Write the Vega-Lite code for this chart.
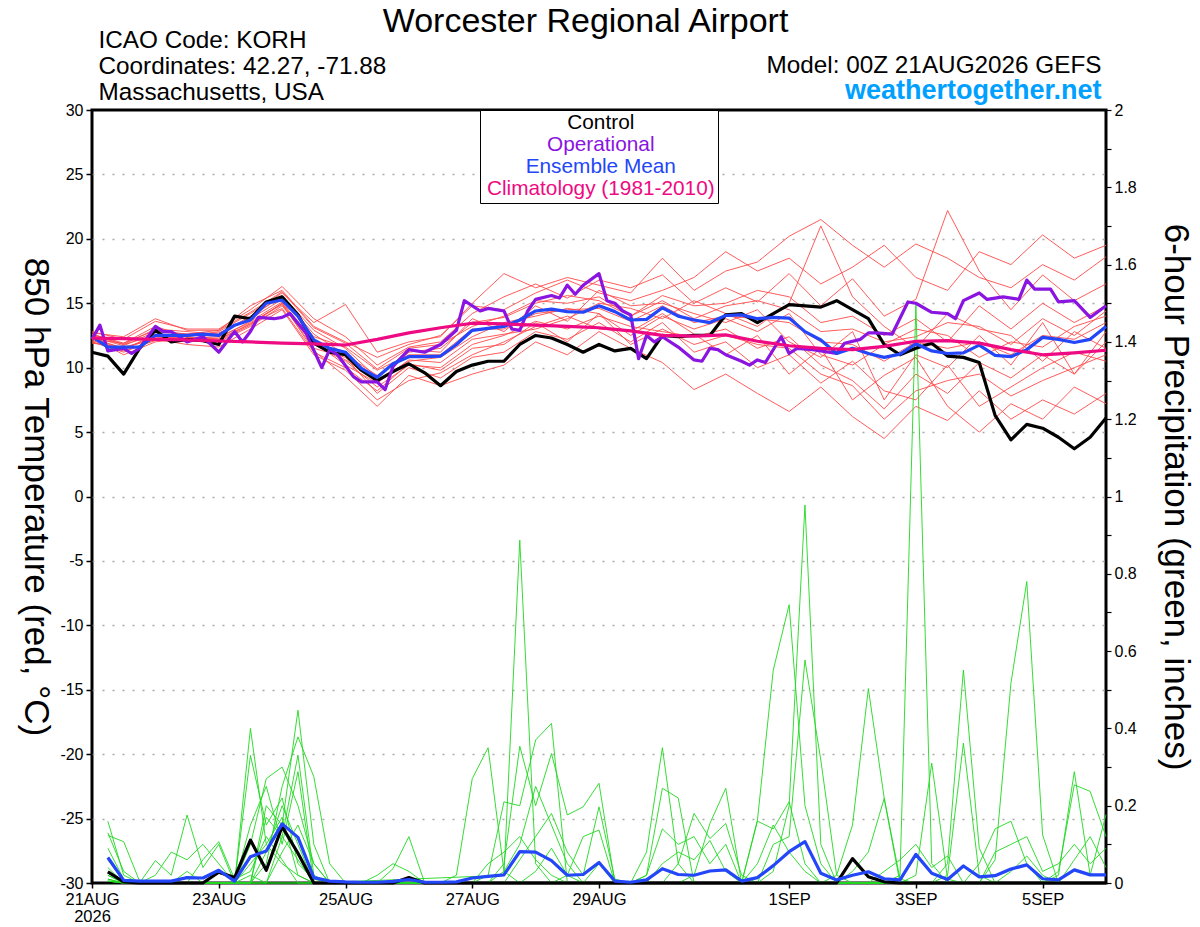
{
  "$schema": "https://vega.github.io/schema/vega-lite/v6.json",
  "width": 1014,
  "height": 773,
  "autosize": {"type": "none"},
  "padding": {"left": 92, "top": 110, "right": 94, "bottom": 44},
  "background": "white",
  "config": {
    "font": "Liberation Sans",
    "view": {"stroke": "black", "strokeWidth": 3},
    "axis": {
      "labelFont": "Liberation Sans",
      "titleFont": "Liberation Sans",
      "labelColor": "black",
      "titleColor": "black",
      "titleFontWeight": "normal",
      "tickColor": "black",
      "labelFlush": false
    }
  },
  "datasets": {
    "ens_t": [
      {"m":1,"h":0,"t":12.6},{"m":1,"h":12,"t":11.9},{"m":1,"h":24,"t":13.2},{"m":1,"h":36,"t":12.4},{"m":1,"h":48,"t":12.8},{"m":1,"h":60,"t":14.2},{"m":1,"h":72,"t":15.8},{"m":1,"h":84,"t":13.5},{"m":1,"h":96,"t":14.9},{"m":1,"h":108,"t":11.2},{"m":1,"h":120,"t":12.0},{"m":1,"h":132,"t":12.4},{"m":1,"h":144,"t":15.0},{"m":1,"h":156,"t":17.3},{"m":1,"h":168,"t":16.2},{"m":1,"h":180,"t":17.0},{"m":1,"h":192,"t":16.4},{"m":1,"h":204,"t":15.8},{"m":1,"h":216,"t":18.5},{"m":1,"h":228,"t":16.0},{"m":1,"h":240,"t":17.5},{"m":1,"h":252,"t":18.2},{"m":1,"h":264,"t":20.2},{"m":1,"h":276,"t":21.5},{"m":1,"h":288,"t":19.5},{"m":1,"h":300,"t":17.8},{"m":1,"h":312,"t":19.6},{"m":1,"h":324,"t":18.5},{"m":1,"h":336,"t":17.0},{"m":1,"h":348,"t":16.2},{"m":1,"h":360,"t":18.0},{"m":1,"h":372,"t":16.8},{"m":1,"h":384,"t":18.6},
      {"m":2,"h":0,"t":12.0},{"m":2,"h":12,"t":11.3},{"m":2,"h":24,"t":12.1},{"m":2,"h":36,"t":12.6},{"m":2,"h":48,"t":12.2},{"m":2,"h":60,"t":13.4},{"m":2,"h":72,"t":15.0},{"m":2,"h":84,"t":11.3},{"m":2,"h":96,"t":9.3},{"m":2,"h":108,"t":7.0},{"m":2,"h":120,"t":9.4},{"m":2,"h":132,"t":8.6},{"m":2,"h":144,"t":9.5},{"m":2,"h":156,"t":10.2},{"m":2,"h":168,"t":12.0},{"m":2,"h":180,"t":11.0},{"m":2,"h":192,"t":12.8},{"m":2,"h":204,"t":11.5},{"m":2,"h":216,"t":10.4},{"m":2,"h":228,"t":8.3},{"m":2,"h":240,"t":9.5},{"m":2,"h":252,"t":8.0},{"m":2,"h":264,"t":6.6},{"m":2,"h":276,"t":8.5},{"m":2,"h":288,"t":6.2},{"m":2,"h":300,"t":4.5},{"m":2,"h":312,"t":7.0},{"m":2,"h":324,"t":5.9},{"m":2,"h":336,"t":8.2},{"m":2,"h":348,"t":6.0},{"m":2,"h":360,"t":7.5},{"m":2,"h":372,"t":6.4},{"m":2,"h":384,"t":8.0},
      {"m":3,"h":0,"t":12.8},{"m":3,"h":12,"t":12.2},{"m":3,"h":24,"t":13.6},{"m":3,"h":36,"t":13.0},{"m":3,"h":48,"t":13.0},{"m":3,"h":60,"t":14.5},{"m":3,"h":72,"t":16.3},{"m":3,"h":84,"t":13.8},{"m":3,"h":96,"t":12.4},{"m":3,"h":108,"t":10.2},{"m":3,"h":120,"t":11.6},{"m":3,"h":132,"t":12.0},{"m":3,"h":144,"t":14.2},{"m":3,"h":156,"t":15.5},{"m":3,"h":168,"t":16.5},{"m":3,"h":180,"t":15.4},{"m":3,"h":192,"t":16.8},{"m":3,"h":204,"t":16.2},{"m":3,"h":216,"t":17.2},{"m":3,"h":228,"t":15.0},{"m":3,"h":240,"t":16.2},{"m":3,"h":252,"t":15.1},{"m":3,"h":264,"t":17.3},{"m":3,"h":276,"t":14.8},{"m":3,"h":288,"t":16.9},{"m":3,"h":300,"t":14.0},{"m":3,"h":312,"t":15.3},{"m":3,"h":324,"t":22.2},{"m":3,"h":336,"t":17.5},{"m":3,"h":348,"t":14.5},{"m":3,"h":360,"t":17.2},{"m":3,"h":372,"t":15.2},{"m":3,"h":384,"t":16.5},
      {"m":4,"h":0,"t":12.2},{"m":4,"h":12,"t":11.5},{"m":4,"h":24,"t":12.4},{"m":4,"h":36,"t":12.1},{"m":4,"h":48,"t":12.0},{"m":4,"h":60,"t":13.2},{"m":4,"h":72,"t":14.8},{"m":4,"h":84,"t":11.8},{"m":4,"h":96,"t":10.5},{"m":4,"h":108,"t":8.5},{"m":4,"h":120,"t":10.2},{"m":4,"h":132,"t":10.0},{"m":4,"h":144,"t":11.8},{"m":4,"h":156,"t":12.5},{"m":4,"h":168,"t":13.6},{"m":4,"h":180,"t":13.0},{"m":4,"h":192,"t":14.0},{"m":4,"h":204,"t":13.2},{"m":4,"h":216,"t":12.8},{"m":4,"h":228,"t":12.4},{"m":4,"h":240,"t":13.0},{"m":4,"h":252,"t":11.5},{"m":4,"h":264,"t":12.4},{"m":4,"h":276,"t":10.2},{"m":4,"h":288,"t":9.0},{"m":4,"h":300,"t":6.8},{"m":4,"h":312,"t":9.5},{"m":4,"h":324,"t":8.0},{"m":4,"h":336,"t":10.4},{"m":4,"h":348,"t":9.2},{"m":4,"h":360,"t":11.0},{"m":4,"h":372,"t":9.5},{"m":4,"h":384,"t":12.0},
      {"m":5,"h":0,"t":12.5},{"m":5,"h":12,"t":11.8},{"m":5,"h":24,"t":13.0},{"m":5,"h":36,"t":12.8},{"m":5,"h":48,"t":12.6},{"m":5,"h":60,"t":14.0},{"m":5,"h":72,"t":15.5},{"m":5,"h":84,"t":12.6},{"m":5,"h":96,"t":11.0},{"m":5,"h":108,"t":9.4},{"m":5,"h":120,"t":11.2},{"m":5,"h":132,"t":11.5},{"m":5,"h":144,"t":13.5},{"m":5,"h":156,"t":13.9},{"m":5,"h":168,"t":15.0},{"m":5,"h":180,"t":15.6},{"m":5,"h":192,"t":15.2},{"m":5,"h":204,"t":14.0},{"m":5,"h":216,"t":15.6},{"m":5,"h":228,"t":14.8},{"m":5,"h":240,"t":15.0},{"m":5,"h":252,"t":16.0},{"m":5,"h":264,"t":15.5},{"m":5,"h":276,"t":13.5},{"m":5,"h":288,"t":14.0},{"m":5,"h":300,"t":12.5},{"m":5,"h":312,"t":13.8},{"m":5,"h":324,"t":12.0},{"m":5,"h":336,"t":14.8},{"m":5,"h":348,"t":13.0},{"m":5,"h":360,"t":15.0},{"m":5,"h":372,"t":13.5},{"m":5,"h":384,"t":14.8},
      {"m":6,"h":0,"t":12.3},{"m":6,"h":12,"t":11.0},{"m":6,"h":24,"t":12.0},{"m":6,"h":36,"t":12.3},{"m":6,"h":48,"t":12.4},{"m":6,"h":60,"t":13.5},{"m":6,"h":72,"t":14.9},{"m":6,"h":84,"t":11.5},{"m":6,"h":96,"t":10.8},{"m":6,"h":108,"t":8.0},{"m":6,"h":120,"t":10.0},{"m":6,"h":132,"t":9.2},{"m":6,"h":144,"t":10.8},{"m":6,"h":156,"t":11.2},{"m":6,"h":168,"t":12.8},{"m":6,"h":180,"t":12.2},{"m":6,"h":192,"t":13.5},{"m":6,"h":204,"t":12.0},{"m":6,"h":216,"t":13.5},{"m":6,"h":228,"t":11.2},{"m":6,"h":240,"t":12.0},{"m":6,"h":252,"t":10.0},{"m":6,"h":264,"t":11.0},{"m":6,"h":276,"t":8.8},{"m":6,"h":288,"t":10.5},{"m":6,"h":300,"t":8.2},{"m":6,"h":312,"t":7.5},{"m":6,"h":324,"t":10.2},{"m":6,"h":336,"t":7.0},{"m":6,"h":348,"t":8.5},{"m":6,"h":360,"t":10.0},{"m":6,"h":372,"t":11.2},{"m":6,"h":384,"t":10.5},
      {"m":7,"h":0,"t":12.7},{"m":7,"h":12,"t":12.4},{"m":7,"h":24,"t":13.8},{"m":7,"h":36,"t":12.9},{"m":7,"h":48,"t":12.9},{"m":7,"h":60,"t":14.8},{"m":7,"h":72,"t":16.0},{"m":7,"h":84,"t":13.2},{"m":7,"h":96,"t":12.0},{"m":7,"h":108,"t":10.8},{"m":7,"h":120,"t":11.8},{"m":7,"h":132,"t":12.5},{"m":7,"h":144,"t":14.8},{"m":7,"h":156,"t":14.5},{"m":7,"h":168,"t":15.8},{"m":7,"h":180,"t":16.8},{"m":7,"h":192,"t":15.8},{"m":7,"h":204,"t":15.2},{"m":7,"h":216,"t":16.0},{"m":7,"h":228,"t":17.0},{"m":7,"h":240,"t":19.0},{"m":7,"h":252,"t":17.5},{"m":7,"h":264,"t":18.5},{"m":7,"h":276,"t":16.5},{"m":7,"h":288,"t":17.8},{"m":7,"h":300,"t":19.5},{"m":7,"h":312,"t":17.0},{"m":7,"h":324,"t":16.0},{"m":7,"h":336,"t":19.0},{"m":7,"h":348,"t":18.0},{"m":7,"h":360,"t":20.3},{"m":7,"h":372,"t":18.5},{"m":7,"h":384,"t":19.5},
      {"m":8,"h":0,"t":11.9},{"m":8,"h":12,"t":11.6},{"m":8,"h":24,"t":12.2},{"m":8,"h":36,"t":11.8},{"m":8,"h":48,"t":11.6},{"m":8,"h":60,"t":13.0},{"m":8,"h":72,"t":14.5},{"m":8,"h":84,"t":11.0},{"m":8,"h":96,"t":9.8},{"m":8,"h":108,"t":7.5},{"m":8,"h":120,"t":9.0},{"m":8,"h":132,"t":9.6},{"m":8,"h":144,"t":11.0},{"m":8,"h":156,"t":12.0},{"m":8,"h":168,"t":13.2},{"m":8,"h":180,"t":14.0},{"m":8,"h":192,"t":13.0},{"m":8,"h":204,"t":12.8},{"m":8,"h":216,"t":14.2},{"m":8,"h":228,"t":12.6},{"m":8,"h":240,"t":11.0},{"m":8,"h":252,"t":12.5},{"m":8,"h":264,"t":9.5},{"m":8,"h":276,"t":11.5},{"m":8,"h":288,"t":7.5},{"m":8,"h":300,"t":9.4},{"m":8,"h":312,"t":10.8},{"m":8,"h":324,"t":7.0},{"m":8,"h":336,"t":5.0},{"m":8,"h":348,"t":7.2},{"m":8,"h":360,"t":6.0},{"m":8,"h":372,"t":8.5},{"m":8,"h":384,"t":7.2},
      {"m":9,"h":0,"t":12.4},{"m":9,"h":12,"t":11.7},{"m":9,"h":24,"t":12.8},{"m":9,"h":36,"t":12.6},{"m":9,"h":48,"t":12.7},{"m":9,"h":60,"t":13.8},{"m":9,"h":72,"t":15.3},{"m":9,"h":84,"t":12.4},{"m":9,"h":96,"t":11.6},{"m":9,"h":108,"t":9.8},{"m":9,"h":120,"t":11.0},{"m":9,"h":132,"t":11.0},{"m":9,"h":144,"t":13.0},{"m":9,"h":156,"t":13.0},{"m":9,"h":168,"t":14.2},{"m":9,"h":180,"t":14.5},{"m":9,"h":192,"t":14.6},{"m":9,"h":204,"t":13.6},{"m":9,"h":216,"t":14.8},{"m":9,"h":228,"t":13.5},{"m":9,"h":240,"t":14.0},{"m":9,"h":252,"t":13.8},{"m":9,"h":264,"t":13.5},{"m":9,"h":276,"t":12.0},{"m":9,"h":288,"t":11.8},{"m":9,"h":300,"t":10.5},{"m":9,"h":312,"t":12.0},{"m":9,"h":324,"t":11.5},{"m":9,"h":336,"t":12.0},{"m":9,"h":348,"t":11.0},{"m":9,"h":360,"t":12.5},{"m":9,"h":372,"t":12.2},{"m":9,"h":384,"t":13.5},
      {"m":10,"h":0,"t":12.1},{"m":10,"h":12,"t":11.4},{"m":10,"h":24,"t":12.6},{"m":10,"h":36,"t":12.2},{"m":10,"h":48,"t":12.3},{"m":10,"h":60,"t":13.6},{"m":10,"h":72,"t":15.1},{"m":10,"h":84,"t":12.0},{"m":10,"h":96,"t":10.2},{"m":10,"h":108,"t":8.8},{"m":10,"h":120,"t":10.6},{"m":10,"h":132,"t":10.4},{"m":10,"h":144,"t":12.2},{"m":10,"h":156,"t":12.6},{"m":10,"h":168,"t":13.0},{"m":10,"h":180,"t":13.8},{"m":10,"h":192,"t":15.0},{"m":10,"h":204,"t":14.6},{"m":10,"h":216,"t":13.8},{"m":10,"h":228,"t":15.2},{"m":10,"h":240,"t":14.2},{"m":10,"h":252,"t":13.2},{"m":10,"h":264,"t":15.0},{"m":10,"h":276,"t":21.0},{"m":10,"h":288,"t":15.5},{"m":10,"h":300,"t":13.2},{"m":10,"h":312,"t":11.5},{"m":10,"h":324,"t":14.2},{"m":10,"h":336,"t":13.0},{"m":10,"h":348,"t":12.5},{"m":10,"h":360,"t":10.5},{"m":10,"h":372,"t":12.8},{"m":10,"h":384,"t":11.5},
      {"m":11,"h":0,"t":12.6},{"m":11,"h":12,"t":11.8},{"m":11,"h":24,"t":12.5},{"m":11,"h":36,"t":12.5},{"m":11,"h":48,"t":12.5},{"m":11,"h":60,"t":13.9},{"m":11,"h":72,"t":15.6},{"m":11,"h":84,"t":12.9},{"m":11,"h":96,"t":11.5},{"m":11,"h":108,"t":9.2},{"m":11,"h":120,"t":11.4},{"m":11,"h":132,"t":11.2},{"m":11,"h":144,"t":13.8},{"m":11,"h":156,"t":12.8},{"m":11,"h":168,"t":14.8},{"m":11,"h":180,"t":13.6},{"m":11,"h":192,"t":16.0},{"m":11,"h":204,"t":14.8},{"m":11,"h":216,"t":15.0},{"m":11,"h":228,"t":14.2},{"m":11,"h":240,"t":13.5},{"m":11,"h":252,"t":14.5},{"m":11,"h":264,"t":12.0},{"m":11,"h":276,"t":10.8},{"m":11,"h":288,"t":12.8},{"m":11,"h":300,"t":7.5},{"m":11,"h":312,"t":11.0},{"m":11,"h":324,"t":10.0},{"m":11,"h":336,"t":12.5},{"m":11,"h":348,"t":10.2},{"m":11,"h":360,"t":13.5},{"m":11,"h":372,"t":9.5},{"m":11,"h":384,"t":12.8},
      {"m":12,"h":0,"t":12.3},{"m":12,"h":12,"t":11.5},{"m":12,"h":24,"t":12.3},{"m":12,"h":36,"t":12.4},{"m":12,"h":48,"t":12.1},{"m":12,"h":60,"t":13.3},{"m":12,"h":72,"t":15.0},{"m":12,"h":84,"t":11.9},{"m":12,"h":96,"t":10.6},{"m":12,"h":108,"t":9.0},{"m":12,"h":120,"t":10.5},{"m":12,"h":132,"t":10.8},{"m":12,"h":144,"t":12.4},{"m":12,"h":156,"t":13.5},{"m":12,"h":168,"t":14.0},{"m":12,"h":180,"t":14.6},{"m":12,"h":192,"t":14.2},{"m":12,"h":204,"t":12.5},{"m":12,"h":216,"t":14.0},{"m":12,"h":228,"t":13.0},{"m":12,"h":240,"t":13.8},{"m":12,"h":252,"t":12.8},{"m":12,"h":264,"t":14.2},{"m":12,"h":276,"t":11.0},{"m":12,"h":288,"t":10.2},{"m":12,"h":300,"t":11.8},{"m":12,"h":312,"t":13.0},{"m":12,"h":324,"t":12.5},{"m":12,"h":336,"t":10.8},{"m":12,"h":348,"t":12.0},{"m":12,"h":360,"t":11.6},{"m":12,"h":372,"t":13.2},{"m":12,"h":384,"t":14.0},
      {"m":13,"h":0,"t":12.2},{"m":13,"h":12,"t":11.9},{"m":13,"h":24,"t":12.9},{"m":13,"h":36,"t":12.6},{"m":13,"h":48,"t":12.9},{"m":13,"h":60,"t":14.3},{"m":13,"h":72,"t":15.9},{"m":13,"h":84,"t":13.1},{"m":13,"h":96,"t":11.9},{"m":13,"h":108,"t":9.9},{"m":13,"h":120,"t":11.5},{"m":13,"h":132,"t":11.8},{"m":13,"h":144,"t":13.2},{"m":13,"h":156,"t":14.0},{"m":13,"h":168,"t":15.2},{"m":13,"h":180,"t":15.0},{"m":13,"h":192,"t":15.5},{"m":13,"h":204,"t":14.0},{"m":13,"h":216,"t":15.2},{"m":13,"h":228,"t":13.8},{"m":13,"h":240,"t":14.8},{"m":13,"h":252,"t":15.2},{"m":13,"h":264,"t":14.5},{"m":13,"h":276,"t":12.8},{"m":13,"h":288,"t":13.0},{"m":13,"h":300,"t":12.0},{"m":13,"h":312,"t":12.4},{"m":13,"h":324,"t":13.5},{"m":13,"h":336,"t":13.2},{"m":13,"h":348,"t":11.8},{"m":13,"h":360,"t":13.8},{"m":13,"h":372,"t":12.5},{"m":13,"h":384,"t":14.4},
      {"m":14,"h":0,"t":12.0},{"m":14,"h":12,"t":11.2},{"m":14,"h":24,"t":12.2},{"m":14,"h":36,"t":12.3},{"m":14,"h":48,"t":12.2},{"m":14,"h":60,"t":13.4},{"m":14,"h":72,"t":14.6},{"m":14,"h":84,"t":11.2},{"m":14,"h":96,"t":10.0},{"m":14,"h":108,"t":8.2},{"m":14,"h":120,"t":10.3},{"m":14,"h":132,"t":9.8},{"m":14,"h":144,"t":11.5},{"m":14,"h":156,"t":11.8},{"m":14,"h":168,"t":13.5},{"m":14,"h":180,"t":12.0},{"m":14,"h":192,"t":14.2},{"m":14,"h":204,"t":11.8},{"m":14,"h":216,"t":13.0},{"m":14,"h":228,"t":11.8},{"m":14,"h":240,"t":12.5},{"m":14,"h":252,"t":11.8},{"m":14,"h":264,"t":11.5},{"m":14,"h":276,"t":9.5},{"m":14,"h":288,"t":8.6},{"m":14,"h":300,"t":6.0},{"m":14,"h":312,"t":8.2},{"m":14,"h":324,"t":9.0},{"m":14,"h":336,"t":9.5},{"m":14,"h":348,"t":7.8},{"m":14,"h":360,"t":9.0},{"m":14,"h":372,"t":10.0},{"m":14,"h":384,"t":11.0}
    ],
    "ens_p": [
      {"m":1,"h":6,"p":0.16},{"m":1,"h":12,"p":0.02},{"m":1,"h":18,"p":0},{"m":1,"h":54,"p":0},{"m":1,"h":60,"p":0.40},{"m":1,"h":66,"p":0.10},{"m":1,"h":72,"p":0.05},{"m":1,"h":78,"p":0.02},{"m":1,"h":84,"p":0},{"m":1,"h":156,"p":0.02},{"m":1,"h":162,"p":0.887},{"m":1,"h":168,"p":0.05},{"m":1,"h":174,"p":0},{"m":1,"h":282,"p":0},{"m":1,"h":288,"p":0.03},{"m":1,"h":294,"p":0.08},{"m":1,"h":300,"p":0.219},{"m":1,"h":306,"p":0},{"m":1,"h":384,"p":0},
      {"m":2,"h":6,"p":0.13},{"m":2,"h":12,"p":0.03},{"m":2,"h":18,"p":0},{"m":2,"h":54,"p":0},{"m":2,"h":60,"p":0.33},{"m":2,"h":66,"p":0.15},{"m":2,"h":72,"p":0.22},{"m":2,"h":78,"p":0.05},{"m":2,"h":84,"p":0.01},{"m":2,"h":90,"p":0},{"m":2,"h":144,"p":0},{"m":2,"h":150,"p":0.02},{"m":2,"h":156,"p":0.21},{"m":2,"h":162,"p":0.2},{"m":2,"h":168,"p":0.37},{"m":2,"h":174,"p":0.413},{"m":2,"h":180,"p":0},{"m":2,"h":300,"p":0},{"m":2,"h":306,"p":0.02},{"m":2,"h":312,"p":1.495},{"m":2,"h":318,"p":0.05},{"m":2,"h":324,"p":0},{"m":2,"h":384,"p":0},
      {"m":3,"h":6,"p":0.123},{"m":3,"h":12,"p":0.107},{"m":3,"h":18,"p":0.005},{"m":3,"h":24,"p":0},{"m":3,"h":54,"p":0},{"m":3,"h":60,"p":0.10},{"m":3,"h":66,"p":0.27},{"m":3,"h":72,"p":0.30},{"m":3,"h":78,"p":0.20},{"m":3,"h":84,"p":0.05},{"m":3,"h":90,"p":0},{"m":3,"h":150,"p":0},{"m":3,"h":156,"p":0.05},{"m":3,"h":162,"p":0.354},{"m":3,"h":168,"p":0.2},{"m":3,"h":174,"p":0.335},{"m":3,"h":180,"p":0.176},{"m":3,"h":186,"p":0.197},{"m":3,"h":192,"p":0.258},{"m":3,"h":198,"p":0},{"m":3,"h":306,"p":0},{"m":3,"h":312,"p":0.02},{"m":3,"h":318,"p":0.31},{"m":3,"h":324,"p":0.01},{"m":3,"h":330,"p":0},{"m":3,"h":384,"p":0},
      {"m":4,"h":6,"p":0.09},{"m":4,"h":12,"p":0.01},{"m":4,"h":18,"p":0},{"m":4,"h":60,"p":0},{"m":4,"h":66,"p":0.2},{"m":4,"h":72,"p":0.15},{"m":4,"h":78,"p":0.447},{"m":4,"h":84,"p":0.1},{"m":4,"h":90,"p":0},{"m":4,"h":150,"p":0},{"m":4,"h":156,"p":0.03},{"m":4,"h":162,"p":0.1},{"m":4,"h":168,"p":0.25},{"m":4,"h":174,"p":0.15},{"m":4,"h":180,"p":0.05},{"m":4,"h":186,"p":0},{"m":4,"h":318,"p":0},{"m":4,"h":324,"p":0.05},{"m":4,"h":330,"p":0.551},{"m":4,"h":336,"p":0.09},{"m":4,"h":342,"p":0},{"m":4,"h":384,"p":0},
      {"m":5,"h":6,"p":0.06},{"m":5,"h":12,"p":0.005},{"m":5,"h":18,"p":0},{"m":5,"h":60,"p":0},{"m":5,"h":66,"p":0.05},{"m":5,"h":72,"p":0.25},{"m":5,"h":78,"p":0.378},{"m":5,"h":84,"p":0.275},{"m":5,"h":90,"p":0.05},{"m":5,"h":96,"p":0},{"m":5,"h":174,"p":0},{"m":5,"h":180,"p":0.02},{"m":5,"h":186,"p":0.12},{"m":5,"h":192,"p":0.137},{"m":5,"h":198,"p":0},{"m":5,"h":318,"p":0},{"m":5,"h":324,"p":0.02},{"m":5,"h":330,"p":0.362},{"m":5,"h":336,"p":0.02},{"m":5,"h":342,"p":0},{"m":5,"h":384,"p":0},
      {"m":6,"h":6,"p":0.04},{"m":6,"h":12,"p":0},{"m":6,"h":60,"p":0},{"m":6,"h":66,"p":0.17},{"m":6,"h":72,"p":0.12},{"m":6,"h":78,"p":0.331},{"m":6,"h":84,"p":0.02},{"m":6,"h":90,"p":0},{"m":6,"h":156,"p":0},{"m":6,"h":162,"p":0.06},{"m":6,"h":168,"p":0.12},{"m":6,"h":174,"p":0.18},{"m":6,"h":180,"p":0.08},{"m":6,"h":186,"p":0.02},{"m":6,"h":192,"p":0.197},{"m":6,"h":198,"p":0.01},{"m":6,"h":204,"p":0},{"m":6,"h":336,"p":0},{"m":6,"h":342,"p":0.06},{"m":6,"h":348,"p":0.517},{"m":6,"h":354,"p":0.78},{"m":6,"h":360,"p":0.124},{"m":6,"h":366,"p":0},{"m":6,"h":384,"p":0},
      {"m":7,"h":6,"p":0.03},{"m":7,"h":12,"p":0},{"m":7,"h":54,"p":0},{"m":7,"h":60,"p":0.15},{"m":7,"h":66,"p":0.25},{"m":7,"h":72,"p":0.10},{"m":7,"h":78,"p":0.288},{"m":7,"h":84,"p":0},{"m":7,"h":162,"p":0},{"m":7,"h":168,"p":0.03},{"m":7,"h":174,"p":0.09},{"m":7,"h":180,"p":0.02},{"m":7,"h":186,"p":0},{"m":7,"h":192,"p":0.05},{"m":7,"h":198,"p":0},{"m":7,"h":204,"p":0},{"m":7,"h":210,"p":0.08},{"m":7,"h":216,"p":0.35},{"m":7,"h":222,"p":0.05},{"m":7,"h":228,"p":0},{"m":7,"h":360,"p":0},{"m":7,"h":366,"p":0.02},{"m":7,"h":372,"p":0.288},{"m":7,"h":378,"p":0.02},{"m":7,"h":384,"p":0.177},
      {"m":8,"h":6,"p":0.02},{"m":8,"h":12,"p":0},{"m":8,"h":60,"p":0},{"m":8,"h":66,"p":0.08},{"m":8,"h":72,"p":0.20},{"m":8,"h":78,"p":0.1},{"m":8,"h":84,"p":0},{"m":8,"h":204,"p":0},{"m":8,"h":210,"p":0.02},{"m":8,"h":216,"p":0.245},{"m":8,"h":222,"p":0.22},{"m":8,"h":228,"p":0},{"m":8,"h":360,"p":0},{"m":8,"h":366,"p":0.03},{"m":8,"h":372,"p":0.254},{"m":8,"h":378,"p":0.237},{"m":8,"h":384,"p":0.12},
      {"m":9,"h":6,"p":0.01},{"m":9,"h":12,"p":0},{"m":9,"h":18,"p":0},{"m":9,"h":24,"p":0.058},{"m":9,"h":30,"p":0.02},{"m":9,"h":36,"p":0.176},{"m":9,"h":42,"p":0.04},{"m":9,"h":48,"p":0.1},{"m":9,"h":54,"p":0},{"m":9,"h":60,"p":0.05},{"m":9,"h":66,"p":0.1},{"m":9,"h":72,"p":0.17},{"m":9,"h":78,"p":0.02},{"m":9,"h":84,"p":0},{"m":9,"h":216,"p":0},{"m":9,"h":222,"p":0.05},{"m":9,"h":228,"p":0.18},{"m":9,"h":234,"p":0.115},{"m":9,"h":240,"p":0.154},{"m":9,"h":246,"p":0.02},{"m":9,"h":252,"p":0},{"m":9,"h":330,"p":0},{"m":9,"h":336,"p":0.05},{"m":9,"h":342,"p":0.14},{"m":9,"h":348,"p":0.16},{"m":9,"h":354,"p":0.05},{"m":9,"h":360,"p":0},{"m":9,"h":384,"p":0},
      {"m":10,"h":6,"p":0.005},{"m":10,"h":12,"p":0},{"m":10,"h":18,"p":0},{"m":10,"h":24,"p":0.02},{"m":10,"h":30,"p":0.08},{"m":10,"h":36,"p":0.06},{"m":10,"h":42,"p":0.1},{"m":10,"h":48,"p":0.05},{"m":10,"h":54,"p":0},{"m":10,"h":66,"p":0},{"m":10,"h":72,"p":0.08},{"m":10,"h":78,"p":0.15},{"m":10,"h":84,"p":0.05},{"m":10,"h":90,"p":0},{"m":10,"h":222,"p":0},{"m":10,"h":228,"p":0.02},{"m":10,"h":234,"p":0.154},{"m":10,"h":240,"p":0.245},{"m":10,"h":246,"p":0},{"m":10,"h":252,"p":0.16},{"m":10,"h":258,"p":0.14},{"m":10,"h":264,"p":0.21},{"m":10,"h":270,"p":0.05},{"m":10,"h":276,"p":0},{"m":10,"h":336,"p":0},{"m":10,"h":342,"p":0.08},{"m":10,"h":348,"p":0.1},{"m":10,"h":354,"p":0.12},{"m":10,"h":360,"p":0.03},{"m":10,"h":366,"p":0.05},{"m":10,"h":372,"p":0.1},{"m":10,"h":378,"p":0.05},{"m":10,"h":384,"p":0.09},
      {"m":11,"h":6,"p":0.01},{"m":11,"h":12,"p":0},{"m":11,"h":36,"p":0},{"m":11,"h":42,"p":0.06},{"m":11,"h":48,"p":0.107},{"m":11,"h":54,"p":0.01},{"m":11,"h":60,"p":0.03},{"m":11,"h":66,"p":0.12},{"m":11,"h":72,"p":0.06},{"m":11,"h":78,"p":0},{"m":11,"h":204,"p":0},{"m":11,"h":210,"p":0.02},{"m":11,"h":216,"p":0.14},{"m":11,"h":222,"p":0.1},{"m":11,"h":228,"p":0.12},{"m":11,"h":234,"p":0.05},{"m":11,"h":240,"p":0.1},{"m":11,"h":246,"p":0},{"m":11,"h":252,"p":0.163},{"m":11,"h":258,"p":0.551},{"m":11,"h":264,"p":0.72},{"m":11,"h":270,"p":0.2},{"m":11,"h":276,"p":0.05},{"m":11,"h":282,"p":0},{"m":11,"h":342,"p":0},{"m":11,"h":348,"p":0.03},{"m":11,"h":354,"p":0.07},{"m":11,"h":360,"p":0.02},{"m":11,"h":366,"p":0},{"m":11,"h":372,"p":0.06},{"m":11,"h":378,"p":0.12},{"m":11,"h":384,"p":0.04},
      {"m":12,"h":6,"p":0.005},{"m":12,"h":12,"p":0},{"m":12,"h":54,"p":0},{"m":12,"h":60,"p":0.02},{"m":12,"h":66,"p":0},{"m":12,"h":72,"p":0.12},{"m":12,"h":78,"p":0.06},{"m":12,"h":84,"p":0},{"m":12,"h":108,"p":0},{"m":12,"h":114,"p":0.037},{"m":12,"h":120,"p":0.12},{"m":12,"h":126,"p":0},{"m":12,"h":210,"p":0},{"m":12,"h":216,"p":0.05},{"m":12,"h":222,"p":0.08},{"m":12,"h":228,"p":0.06},{"m":12,"h":234,"p":0.11},{"m":12,"h":240,"p":0.03},{"m":12,"h":246,"p":0},{"m":12,"h":252,"p":0},{"m":12,"h":258,"p":0.1},{"m":12,"h":264,"p":0.12},{"m":12,"h":270,"p":0.577},{"m":12,"h":276,"p":0.318},{"m":12,"h":282,"p":0.02},{"m":12,"h":288,"p":0},{"m":12,"h":384,"p":0},
      {"m":13,"h":6,"p":0.02},{"m":13,"h":12,"p":0},{"m":13,"h":102,"p":0},{"m":13,"h":108,"p":0.02},{"m":13,"h":114,"p":0.05},{"m":13,"h":120,"p":0.03},{"m":13,"h":126,"p":0},{"m":13,"h":132,"p":0},{"m":13,"h":138,"p":0.02},{"m":13,"h":144,"p":0.27},{"m":13,"h":150,"p":0.35},{"m":13,"h":156,"p":0.03},{"m":13,"h":162,"p":0},{"m":13,"h":252,"p":0},{"m":13,"h":258,"p":0.03},{"m":13,"h":264,"p":0.2},{"m":13,"h":270,"p":0.978},{"m":13,"h":276,"p":0.1},{"m":13,"h":282,"p":0},{"m":13,"h":294,"p":0},{"m":13,"h":300,"p":0.03},{"m":13,"h":306,"p":0.06},{"m":13,"h":312,"p":0.1},{"m":13,"h":318,"p":0.04},{"m":13,"h":324,"p":0.07},{"m":13,"h":330,"p":0},{"m":13,"h":384,"p":0},
      {"m":14,"h":6,"p":0.005},{"m":14,"h":12,"p":0},{"m":14,"h":30,"p":0},{"m":14,"h":36,"p":0.03},{"m":14,"h":42,"p":0},{"m":14,"h":144,"p":0},{"m":14,"h":150,"p":0.05},{"m":14,"h":156,"p":0.08},{"m":14,"h":162,"p":0.12},{"m":14,"h":168,"p":0.06},{"m":14,"h":174,"p":0.02},{"m":14,"h":180,"p":0},{"m":14,"h":246,"p":0},{"m":14,"h":252,"p":0.05},{"m":14,"h":258,"p":0.15},{"m":14,"h":264,"p":0.08},{"m":14,"h":270,"p":0.03},{"m":14,"h":276,"p":0},{"m":14,"h":282,"p":0.02},{"m":14,"h":288,"p":0.15},{"m":14,"h":294,"p":0.503},{"m":14,"h":300,"p":0.22},{"m":14,"h":306,"p":0.01},{"m":14,"h":312,"p":0},{"m":14,"h":384,"p":0}
    ],
    "main_p": [
      {"s":"Control","h":6,"p":0.029},{"s":"Control","h":12,"p":0.003},{"s":"Control","h":18,"p":0},{"s":"Control","h":42,"p":0},{"s":"Control","h":48,"p":0.028},{"s":"Control","h":54,"p":0.014},{"s":"Control","h":60,"p":0.111},{"s":"Control","h":66,"p":0.033},{"s":"Control","h":72,"p":0.146},{"s":"Control","h":78,"p":0.077},{"s":"Control","h":84,"p":0},{"s":"Control","h":114,"p":0},{"s":"Control","h":120,"p":0.014},{"s":"Control","h":126,"p":0},{"s":"Control","h":282,"p":0},{"s":"Control","h":288,"p":0.063},{"s":"Control","h":294,"p":0.016},{"s":"Control","h":300,"p":0.003},{"s":"Control","h":306,"p":0},{"s":"Control","h":384,"p":0},
      {"s":"Ensemble Mean","h":6,"p":0.066},{"s":"Ensemble Mean","h":12,"p":0.007},{"s":"Ensemble Mean","h":18,"p":0.005},{"s":"Ensemble Mean","h":24,"p":0.005},{"s":"Ensemble Mean","h":30,"p":0.005},{"s":"Ensemble Mean","h":36,"p":0.014},{"s":"Ensemble Mean","h":42,"p":0.013},{"s":"Ensemble Mean","h":48,"p":0.033},{"s":"Ensemble Mean","h":54,"p":0.005},{"s":"Ensemble Mean","h":60,"p":0.068},{"s":"Ensemble Mean","h":66,"p":0.083},{"s":"Ensemble Mean","h":72,"p":0.153},{"s":"Ensemble Mean","h":78,"p":0.118},{"s":"Ensemble Mean","h":84,"p":0.014},{"s":"Ensemble Mean","h":90,"p":0.005},{"s":"Ensemble Mean","h":96,"p":0.003},{"s":"Ensemble Mean","h":102,"p":0.002},{"s":"Ensemble Mean","h":108,"p":0.002},{"s":"Ensemble Mean","h":114,"p":0.004},{"s":"Ensemble Mean","h":120,"p":0.009},{"s":"Ensemble Mean","h":126,"p":0.002},{"s":"Ensemble Mean","h":132,"p":0.002},{"s":"Ensemble Mean","h":138,"p":0.003},{"s":"Ensemble Mean","h":144,"p":0.013},{"s":"Ensemble Mean","h":150,"p":0.017},{"s":"Ensemble Mean","h":156,"p":0.021},{"s":"Ensemble Mean","h":162,"p":0.081},{"s":"Ensemble Mean","h":168,"p":0.08},{"s":"Ensemble Mean","h":174,"p":0.058},{"s":"Ensemble Mean","h":180,"p":0.02},{"s":"Ensemble Mean","h":186,"p":0.022},{"s":"Ensemble Mean","h":192,"p":0.053},{"s":"Ensemble Mean","h":198,"p":0.005},{"s":"Ensemble Mean","h":204,"p":0.002},{"s":"Ensemble Mean","h":210,"p":0.008},{"s":"Ensemble Mean","h":216,"p":0.037},{"s":"Ensemble Mean","h":222,"p":0.022},{"s":"Ensemble Mean","h":228,"p":0.02},{"s":"Ensemble Mean","h":234,"p":0.031},{"s":"Ensemble Mean","h":240,"p":0.034},{"s":"Ensemble Mean","h":246,"p":0.005},{"s":"Ensemble Mean","h":252,"p":0.014},{"s":"Ensemble Mean","h":258,"p":0.045},{"s":"Ensemble Mean","h":264,"p":0.081},{"s":"Ensemble Mean","h":270,"p":0.107},{"s":"Ensemble Mean","h":276,"p":0.025},{"s":"Ensemble Mean","h":282,"p":0.008},{"s":"Ensemble Mean","h":288,"p":0.02},{"s":"Ensemble Mean","h":294,"p":0.029},{"s":"Ensemble Mean","h":300,"p":0.011},{"s":"Ensemble Mean","h":306,"p":0.008},{"s":"Ensemble Mean","h":312,"p":0.074},{"s":"Ensemble Mean","h":318,"p":0.025},{"s":"Ensemble Mean","h":324,"p":0.009},{"s":"Ensemble Mean","h":330,"p":0.044},{"s":"Ensemble Mean","h":336,"p":0.016},{"s":"Ensemble Mean","h":342,"p":0.019},{"s":"Ensemble Mean","h":348,"p":0.036},{"s":"Ensemble Mean","h":354,"p":0.047},{"s":"Ensemble Mean","h":360,"p":0.011},{"s":"Ensemble Mean","h":366,"p":0.008},{"s":"Ensemble Mean","h":372,"p":0.034},{"s":"Ensemble Mean","h":378,"p":0.021},{"s":"Ensemble Mean","h":384,"p":0.021}
    ],
    "main_t": [
      {"s":"Control","h":0,"t":11.2},{"s":"Control","h":6,"t":10.9},{"s":"Control","h":12,"t":9.5},{"s":"Control","h":18,"t":11.5},{"s":"Control","h":24,"t":12.9},{"s":"Control","h":30,"t":12.0},{"s":"Control","h":36,"t":12.2},{"s":"Control","h":42,"t":12.1},{"s":"Control","h":48,"t":11.8},{"s":"Control","h":54,"t":14.0},{"s":"Control","h":60,"t":13.8},{"s":"Control","h":66,"t":15.1},{"s":"Control","h":72,"t":15.5},{"s":"Control","h":78,"t":14.1},{"s":"Control","h":84,"t":11.9},{"s":"Control","h":90,"t":11.2},{"s":"Control","h":96,"t":11.0},{"s":"Control","h":102,"t":9.8},{"s":"Control","h":108,"t":9.0},{"s":"Control","h":114,"t":9.7},{"s":"Control","h":120,"t":10.3},{"s":"Control","h":126,"t":9.6},{"s":"Control","h":132,"t":8.6},{"s":"Control","h":138,"t":9.7},{"s":"Control","h":144,"t":10.2},{"s":"Control","h":150,"t":10.5},{"s":"Control","h":156,"t":10.5},{"s":"Control","h":162,"t":11.8},{"s":"Control","h":168,"t":12.5},{"s":"Control","h":174,"t":12.3},{"s":"Control","h":180,"t":11.8},{"s":"Control","h":186,"t":11.2},{"s":"Control","h":192,"t":11.8},{"s":"Control","h":198,"t":11.3},{"s":"Control","h":204,"t":11.5},{"s":"Control","h":210,"t":10.7},{"s":"Control","h":216,"t":12.5},{"s":"Control","h":222,"t":12.4},{"s":"Control","h":228,"t":12.5},{"s":"Control","h":234,"t":12.5},{"s":"Control","h":240,"t":14.1},{"s":"Control","h":246,"t":14.2},{"s":"Control","h":252,"t":13.5},{"s":"Control","h":258,"t":14.2},{"s":"Control","h":264,"t":14.9},{"s":"Control","h":270,"t":14.8},{"s":"Control","h":276,"t":14.7},{"s":"Control","h":282,"t":15.2},{"s":"Control","h":288,"t":14.5},{"s":"Control","h":294,"t":13.8},{"s":"Control","h":300,"t":11.8},{"s":"Control","h":306,"t":11.0},{"s":"Control","h":312,"t":11.5},{"s":"Control","h":318,"t":11.9},{"s":"Control","h":324,"t":10.9},{"s":"Control","h":330,"t":10.8},{"s":"Control","h":336,"t":10.4},{"s":"Control","h":342,"t":6.3},{"s":"Control","h":348,"t":4.4},{"s":"Control","h":354,"t":5.6},{"s":"Control","h":360,"t":5.3},{"s":"Control","h":366,"t":4.6},{"s":"Control","h":372,"t":3.7},{"s":"Control","h":378,"t":4.6},{"s":"Control","h":384,"t":6.1},
      {"s":"Operational","h":0,"t":12.2},{"s":"Operational","h":3,"t":13.3},{"s":"Operational","h":6,"t":11.3},{"s":"Operational","h":12,"t":11.5},{"s":"Operational","h":15,"t":11.1},{"s":"Operational","h":18,"t":11.5},{"s":"Operational","h":24,"t":13.2},{"s":"Operational","h":27,"t":12.8},{"s":"Operational","h":30,"t":12.8},{"s":"Operational","h":36,"t":12.0},{"s":"Operational","h":42,"t":12.4},{"s":"Operational","h":48,"t":11.2},{"s":"Operational","h":54,"t":12.8},{"s":"Operational","h":57,"t":12.0},{"s":"Operational","h":60,"t":12.8},{"s":"Operational","h":63,"t":13.9},{"s":"Operational","h":69,"t":13.8},{"s":"Operational","h":72,"t":13.9},{"s":"Operational","h":75,"t":14.2},{"s":"Operational","h":81,"t":12.7},{"s":"Operational","h":87,"t":10.0},{"s":"Operational","h":90,"t":11.4},{"s":"Operational","h":93,"t":11.0},{"s":"Operational","h":99,"t":9.3},{"s":"Operational","h":102,"t":8.9},{"s":"Operational","h":108,"t":8.9},{"s":"Operational","h":111,"t":8.3},{"s":"Operational","h":114,"t":10.1},{"s":"Operational","h":120,"t":11.4},{"s":"Operational","h":126,"t":11.2},{"s":"Operational","h":132,"t":11.8},{"s":"Operational","h":138,"t":12.9},{"s":"Operational","h":141,"t":15.2},{"s":"Operational","h":147,"t":14.4},{"s":"Operational","h":150,"t":14.6},{"s":"Operational","h":156,"t":14.4},{"s":"Operational","h":159,"t":13.0},{"s":"Operational","h":162,"t":12.9},{"s":"Operational","h":165,"t":14.4},{"s":"Operational","h":168,"t":15.3},{"s":"Operational","h":174,"t":15.6},{"s":"Operational","h":177,"t":15.4},{"s":"Operational","h":180,"t":16.4},{"s":"Operational","h":183,"t":15.7},{"s":"Operational","h":186,"t":16.4},{"s":"Operational","h":192,"t":17.3},{"s":"Operational","h":195,"t":15.2},{"s":"Operational","h":198,"t":15.0},{"s":"Operational","h":201,"t":14.4},{"s":"Operational","h":204,"t":14.1},{"s":"Operational","h":207,"t":10.7},{"s":"Operational","h":210,"t":12.5},{"s":"Operational","h":213,"t":12.0},{"s":"Operational","h":216,"t":12.4},{"s":"Operational","h":222,"t":11.6},{"s":"Operational","h":228,"t":10.6},{"s":"Operational","h":231,"t":10.5},{"s":"Operational","h":234,"t":11.5},{"s":"Operational","h":237,"t":11.4},{"s":"Operational","h":240,"t":11.0},{"s":"Operational","h":246,"t":10.5},{"s":"Operational","h":249,"t":10.2},{"s":"Operational","h":252,"t":10.6},{"s":"Operational","h":255,"t":10.4},{"s":"Operational","h":261,"t":12.4},{"s":"Operational","h":264,"t":11.1},{"s":"Operational","h":267,"t":11.5},{"s":"Operational","h":273,"t":11.4},{"s":"Operational","h":276,"t":11.3},{"s":"Operational","h":282,"t":11.1},{"s":"Operational","h":285,"t":11.9},{"s":"Operational","h":291,"t":12.2},{"s":"Operational","h":294,"t":12.7},{"s":"Operational","h":297,"t":12.7},{"s":"Operational","h":303,"t":12.6},{"s":"Operational","h":309,"t":15.1},{"s":"Operational","h":312,"t":15.0},{"s":"Operational","h":318,"t":14.3},{"s":"Operational","h":324,"t":14.2},{"s":"Operational","h":327,"t":13.8},{"s":"Operational","h":330,"t":15.2},{"s":"Operational","h":336,"t":15.8},{"s":"Operational","h":339,"t":15.3},{"s":"Operational","h":345,"t":15.5},{"s":"Operational","h":351,"t":15.3},{"s":"Operational","h":354,"t":16.8},{"s":"Operational","h":357,"t":16.1},{"s":"Operational","h":363,"t":16.1},{"s":"Operational","h":366,"t":15.1},{"s":"Operational","h":372,"t":15.2},{"s":"Operational","h":378,"t":13.9},{"s":"Operational","h":384,"t":14.8},
      {"s":"Ensemble Mean","h":0,"t":12.4},{"s":"Ensemble Mean","h":6,"t":11.6},{"s":"Ensemble Mean","h":12,"t":11.6},{"s":"Ensemble Mean","h":18,"t":11.6},{"s":"Ensemble Mean","h":24,"t":12.5},{"s":"Ensemble Mean","h":30,"t":12.5},{"s":"Ensemble Mean","h":36,"t":12.5},{"s":"Ensemble Mean","h":42,"t":12.6},{"s":"Ensemble Mean","h":48,"t":12.5},{"s":"Ensemble Mean","h":54,"t":13.3},{"s":"Ensemble Mean","h":60,"t":13.7},{"s":"Ensemble Mean","h":66,"t":15.0},{"s":"Ensemble Mean","h":72,"t":15.25},{"s":"Ensemble Mean","h":78,"t":14.0},{"s":"Ensemble Mean","h":84,"t":12.15},{"s":"Ensemble Mean","h":90,"t":11.5},{"s":"Ensemble Mean","h":96,"t":11.2},{"s":"Ensemble Mean","h":102,"t":9.95},{"s":"Ensemble Mean","h":108,"t":9.25},{"s":"Ensemble Mean","h":114,"t":10.3},{"s":"Ensemble Mean","h":120,"t":10.85},{"s":"Ensemble Mean","h":126,"t":10.85},{"s":"Ensemble Mean","h":132,"t":10.9},{"s":"Ensemble Mean","h":138,"t":11.8},{"s":"Ensemble Mean","h":144,"t":12.9},{"s":"Ensemble Mean","h":150,"t":13.05},{"s":"Ensemble Mean","h":156,"t":13.2},{"s":"Ensemble Mean","h":162,"t":13.7},{"s":"Ensemble Mean","h":168,"t":14.4},{"s":"Ensemble Mean","h":174,"t":14.55},{"s":"Ensemble Mean","h":180,"t":14.35},{"s":"Ensemble Mean","h":186,"t":14.3},{"s":"Ensemble Mean","h":192,"t":14.8},{"s":"Ensemble Mean","h":198,"t":14.35},{"s":"Ensemble Mean","h":204,"t":13.7},{"s":"Ensemble Mean","h":210,"t":13.75},{"s":"Ensemble Mean","h":216,"t":14.65},{"s":"Ensemble Mean","h":222,"t":14.0},{"s":"Ensemble Mean","h":228,"t":13.7},{"s":"Ensemble Mean","h":234,"t":13.5},{"s":"Ensemble Mean","h":240,"t":14.05},{"s":"Ensemble Mean","h":246,"t":14.1},{"s":"Ensemble Mean","h":252,"t":13.8},{"s":"Ensemble Mean","h":258,"t":13.9},{"s":"Ensemble Mean","h":264,"t":13.85},{"s":"Ensemble Mean","h":270,"t":12.8},{"s":"Ensemble Mean","h":276,"t":12.15},{"s":"Ensemble Mean","h":282,"t":11.1},{"s":"Ensemble Mean","h":288,"t":11.5},{"s":"Ensemble Mean","h":294,"t":11.1},{"s":"Ensemble Mean","h":300,"t":10.8},{"s":"Ensemble Mean","h":306,"t":11.05},{"s":"Ensemble Mean","h":312,"t":11.85},{"s":"Ensemble Mean","h":318,"t":11.3},{"s":"Ensemble Mean","h":324,"t":11.1},{"s":"Ensemble Mean","h":330,"t":11.15},{"s":"Ensemble Mean","h":336,"t":11.75},{"s":"Ensemble Mean","h":342,"t":10.95},{"s":"Ensemble Mean","h":348,"t":10.85},{"s":"Ensemble Mean","h":354,"t":11.4},{"s":"Ensemble Mean","h":360,"t":12.35},{"s":"Ensemble Mean","h":366,"t":12.2},{"s":"Ensemble Mean","h":372,"t":11.95},{"s":"Ensemble Mean","h":378,"t":12.2},{"s":"Ensemble Mean","h":384,"t":13.2},
      {"s":"Climatology (1981-2010)","h":0,"t":12.3},{"s":"Climatology (1981-2010)","h":12,"t":12.25},{"s":"Climatology (1981-2010)","h":24,"t":12.2},{"s":"Climatology (1981-2010)","h":36,"t":12.15},{"s":"Climatology (1981-2010)","h":48,"t":12.07},{"s":"Climatology (1981-2010)","h":60,"t":12.0},{"s":"Climatology (1981-2010)","h":72,"t":11.9},{"s":"Climatology (1981-2010)","h":84,"t":11.85},{"s":"Climatology (1981-2010)","h":96,"t":11.76},{"s":"Climatology (1981-2010)","h":108,"t":12.2},{"s":"Climatology (1981-2010)","h":120,"t":12.7},{"s":"Climatology (1981-2010)","h":132,"t":13.1},{"s":"Climatology (1981-2010)","h":144,"t":13.45},{"s":"Climatology (1981-2010)","h":156,"t":13.4},{"s":"Climatology (1981-2010)","h":168,"t":13.3},{"s":"Climatology (1981-2010)","h":180,"t":13.2},{"s":"Climatology (1981-2010)","h":192,"t":13.1},{"s":"Climatology (1981-2010)","h":204,"t":12.85},{"s":"Climatology (1981-2010)","h":216,"t":12.5},{"s":"Climatology (1981-2010)","h":228,"t":12.45},{"s":"Climatology (1981-2010)","h":240,"t":12.55},{"s":"Climatology (1981-2010)","h":252,"t":12.05},{"s":"Climatology (1981-2010)","h":264,"t":11.7},{"s":"Climatology (1981-2010)","h":276,"t":11.5},{"s":"Climatology (1981-2010)","h":288,"t":11.4},{"s":"Climatology (1981-2010)","h":300,"t":11.65},{"s":"Climatology (1981-2010)","h":312,"t":12.05},{"s":"Climatology (1981-2010)","h":324,"t":12.1},{"s":"Climatology (1981-2010)","h":336,"t":11.9},{"s":"Climatology (1981-2010)","h":348,"t":11.4},{"s":"Climatology (1981-2010)","h":360,"t":11.0},{"s":"Climatology (1981-2010)","h":372,"t":11.15},{"s":"Climatology (1981-2010)","h":384,"t":11.35}
    ]
  },
  "resolve": {
    "scale": {"y": "independent"},
    "axis": {"x": "independent", "y": "independent"}
  },
  "layer": [
    {
      "data": {"name": "ens_t"},
      "mark": {"type": "line", "stroke": "#ff4a4a", "strokeWidth": 1, "strokeOpacity": 0.9},
      "encoding": {
        "x": {
          "field": "h",
          "type": "quantitative",
          "scale": {"domain": [0, 384], "nice": false, "zero": false},
          "axis": {
            "orient": "bottom",
            "values": [0, 48, 96, 144, 192, 264, 312, 360],
            "labelExpr": "datum.value == 0 ? ['21AUG', '2026'] : datum.value < 264 ? (21 + datum.value / 24) + 'AUG' : (datum.value / 24 - 10) + 'SEP'",
            "labelFontSize": 16.5,
            "labelLineHeight": 17,
            "labelPadding": 3,
            "labelOverlap": false,
            "tickSize": 5,
            "tickWidth": 1.5,
            "domain": false,
            "grid": false,
            "title": null
          }
        },
        "y": {
          "field": "t",
          "type": "quantitative",
          "scale": {"domain": [-30, 30], "nice": false, "zero": false},
          "axis": {
            "orient": "left",
            "values": [-30, -25, -20, -15, -10, -5, 0, 5, 10, 15, 20, 25, 30],
            "labelExpr": "'' + datum.value",
            "labelFontSize": 16,
            "labelPadding": 3,
            "tickSize": 6,
            "tickWidth": 1.5,
            "domain": false,
            "grid": true,
            "gridColor": "#a8a8a8",
            "gridDash": [2, 8],
            "gridWidth": 1.6,
            "gridOpacity": {"condition": {"test": "abs(datum.value) == 30", "value": 0}, "value": 1},
            "title": "850 hPa Temperature (red, °C)",
            "titleFontSize": 35,
            "titleAngle": 90,
            "titleAlign": "center",
            "titleBaseline": "middle",
            "titleX": -57,
            "titleY": 386.5
          }
        },
        "detail": {"field": "m", "type": "nominal"}
      }
    },
    {
      "data": {"name": "ens_p"},
      "mark": {"type": "line", "stroke": "#1fd81f", "strokeWidth": 0.9},
      "encoding": {
        "x": {
          "field": "h",
          "type": "quantitative",
          "scale": {"domain": [0, 384], "nice": false, "zero": false},
          "axis": {
            "orient": "top",
            "labels": false,
            "ticks": false,
            "domain": false,
            "grid": false,
            "title": ["ICAO Code: KORH", "Coordinates: 42.27, -71.88", "Massachusetts, USA"],
            "titleFontSize": 24.3,
            "titleLineHeight": 26.3,
            "titleAngle": 0,
            "titleAlign": "left",
            "titleAnchor": "start",
            "titleBaseline": "alphabetic",
            "titleX": 6,
            "titleY": -63
          }
        },
        "y": {
          "field": "p",
          "type": "quantitative",
          "scale": {"domain": [0, 2], "nice": false, "zero": false},
          "axis": {
            "orient": "right",
            "values": [0, 0.1, 0.2, 0.3, 0.4, 0.5, 0.6, 0.7, 0.8, 0.9, 1, 1.1, 1.2, 1.3, 1.4, 1.5, 1.6, 1.7, 1.8, 1.9, 2],
            "labelExpr": "round(datum.value * 10) % 2 == 0 ? '' + round(datum.value * 10) / 10 : ''",
            "labelFontSize": 16,
            "labelPadding": 3,
            "tickSize": 5,
            "tickWidth": 1.2,
            "domain": false,
            "grid": false,
            "title": "6-hour Precipitation (green, inches)",
            "titleFontSize": 35,
            "titleAngle": 90,
            "titleAlign": "center",
            "titleBaseline": "middle",
            "titleX": 69,
            "titleY": 386.5
          }
        },
        "detail": {"field": "m", "type": "nominal"}
      }
    },
    {
      "data": {"name": "main_p"},
      "mark": {"type": "line", "strokeWidth": 3.2, "strokeJoin": "round"},
      "encoding": {
        "x": {
          "field": "h",
          "type": "quantitative",
          "scale": {"domain": [0, 384], "nice": false, "zero": false},
          "axis": {
            "orient": "top",
            "labels": false,
            "ticks": false,
            "domain": false,
            "grid": false,
            "title": "Model: 00Z 21AUG2026 GEFS",
            "titleFontSize": 24.3,
            "titleAngle": 0,
            "titleAlign": "right",
            "titleAnchor": "end",
            "titleBaseline": "alphabetic",
            "titleX": 1009,
            "titleY": -38
          }
        },
        "y": {
          "field": "p",
          "type": "quantitative",
          "scale": {"domain": [0, 2], "nice": false, "zero": false},
          "axis": {
            "orient": "left",
            "labels": false,
            "ticks": false,
            "domain": false,
            "grid": false,
            "title": "Worcester Regional Airport",
            "titleFontSize": 34,
            "titleAngle": 0,
            "titleAlign": "center",
            "titleBaseline": "alphabetic",
            "titleX": 493,
            "titleY": -79
          }
        },
        "color": {
          "field": "s",
          "type": "nominal",
          "scale": {
            "domain": ["Control", "Operational", "Ensemble Mean", "Climatology (1981-2010)"],
            "range": ["#000000", "#8a14e0", "#2346f8", "#ee0a82"]
          }
        }
      }
    },
    {
      "data": {"name": "main_t"},
      "mark": {"type": "line", "strokeWidth": 3.2, "strokeJoin": "round"},
      "encoding": {
        "x": {
          "field": "h",
          "type": "quantitative",
          "scale": {"domain": [0, 384], "nice": false, "zero": false},
          "axis": {
            "orient": "top",
            "labels": false,
            "ticks": false,
            "domain": false,
            "grid": false,
            "title": "weathertogether.net",
            "titleFontSize": 27,
            "titleFontWeight": "bold",
            "titleColor": "#00a0ff",
            "titleAngle": 0,
            "titleAlign": "right",
            "titleAnchor": "end",
            "titleBaseline": "alphabetic",
            "titleX": 1009,
            "titleY": -12
          }
        },
        "y": {
          "field": "t",
          "type": "quantitative",
          "scale": {"domain": [-30, 30], "nice": false, "zero": false},
          "axis": null
        },
        "color": {
          "field": "s",
          "type": "nominal",
          "scale": {
            "domain": ["Control", "Operational", "Ensemble Mean", "Climatology (1981-2010)"],
            "range": ["#000000", "#8a14e0", "#2346f8", "#ee0a82"]
          },
          "legend": {
            "orient": "none",
            "legendX": 388,
            "legendY": 0,
            "title": null,
            "direction": "vertical",
            "symbolType": "circle",
            "symbolSize": 0,
            "symbolOpacity": 0,
            "symbolStrokeWidth": 0,
            "labelFont": "Liberation Sans",
            "labelFontSize": 20.8,
            "labelAlign": "center",
            "labelOffset": 97,
            "labelLimit": 400,
            "rowPadding": 0,
            "padding": 3,
            "fillColor": "white",
            "strokeColor": "black",
            "labelColor": {"expr": "datum.value == 'Control' ? '#000000' : datum.value == 'Operational' ? '#8a14e0' : datum.value == 'Ensemble Mean' ? '#2346f8' : '#ee0a82'"}
          }
        }
      }
    }
  ]
}
